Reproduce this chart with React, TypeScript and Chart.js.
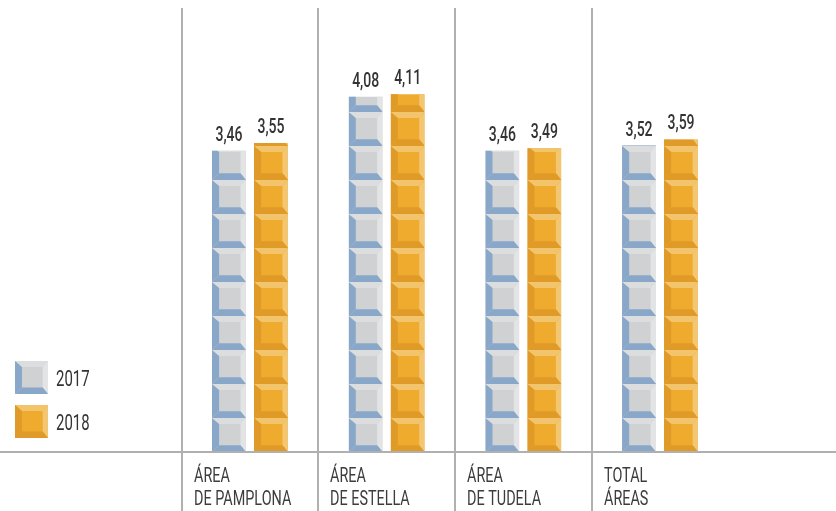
import React, { useEffect, useRef } from "react";
import { Chart, registerables } from "chart.js";

Chart.register(...registerables);

const categories: string[][] = [
  ["ÁREA", "DE PAMPLONA"],
  ["ÁREA", "DE ESTELLA"],
  ["ÁREA", "DE TUDELA"],
  ["TOTAL", "ÁREAS"],
];
const seriesLabels = ["2017", "2018"];
const values2017 = [3.46, 4.08, 3.46, 3.52];
const values2018 = [3.55, 4.11, 3.49, 3.59];

const FONT = "Roboto, 'Liberation Sans', sans-serif";

type Pal = { dark: string; face: string; top: string; right: string };
const palettes: Pal[] = [
  { dark: "#88a7c9", face: "#d0d1d3", top: "#dcdddf", right: "#e3e4e5" },
  { dark: "#e09a28", face: "#eeab2e", top: "#f2c46c", right: "#f3c672" },
];

function poly(ctx: CanvasRenderingContext2D, pts: number[][], color: string) {
  ctx.beginPath();
  ctx.moveTo(pts[0][0], pts[0][1]);
  for (let i = 1; i < pts.length; i++) ctx.lineTo(pts[i][0], pts[i][1]);
  ctx.closePath();
  ctx.fillStyle = color;
  ctx.fill();
}

function drawTile(ctx: CanvasRenderingContext2D, x0: number, y0: number, w: number, h: number, p: Pal) {
  const x1 = x0 + w;
  const y1 = y0 + h;
  const L = w * 0.21, R = w * 0.16, T = h * 0.18, B = h * 0.2;
  ctx.fillStyle = p.face;
  ctx.fillRect(x0, y0, w, h);
  poly(ctx, [[x0, y0], [x1, y0], [x1 - R, y0 + T], [x0 + L, y0 + T]], p.top);
  poly(ctx, [[x1, y0], [x1, y1], [x1 - R, y1 - B], [x1 - R, y0 + T]], p.right);
  poly(ctx, [[x0, y0], [x0 + L, y0 + T], [x0 + L, y1 - B], [x0, y1]], p.dark);
  poly(ctx, [[x0, y1], [x0 + L, y1 - B], [x1 - R, y1 - B], [x1, y1]], p.dark);
}

function drawText(
  ctx: CanvasRenderingContext2D,
  text: string,
  x: number,
  y: number,
  font: string,
  sx: number,
  align: CanvasTextAlign,
  color: string
) {
  ctx.save();
  ctx.font = font;
  ctx.fillStyle = color;
  ctx.textAlign = align;
  ctx.textBaseline = "alphabetic";
  ctx.translate(x, y);
  ctx.scale(sx, 1);
  ctx.fillText(text, 0, 0);
  ctx.restore();
}

const tilePlugin = {
  id: "tiles",
  afterDatasetsDraw(chart: any) {
    const ctx: CanvasRenderingContext2D = chart.ctx;
    chart.data.datasets.forEach((ds: any, di: number) => {
      const meta = chart.getDatasetMeta(di);
      const pal = palettes[di];
      meta.data.forEach((bar: any, i: number) => {
        const { x, y, base, width } = bar.getProps(["x", "y", "base", "width"], true);
        const left = x - width / 2;
        const tileH = 34;
        ctx.save();
        ctx.beginPath();
        ctx.rect(left, y, width, base - y);
        ctx.clip();
        for (let t = base; t > y - tileH; t -= tileH) {
          drawTile(ctx, left, t - tileH, width, tileH, pal);
        }
        ctx.restore();
        drawText(
          ctx,
          Number(ds.data[i]).toFixed(2).replace(".", ","),
          x,
          y - 10,
          `500 20px ${FONT}`,
          0.7,
          "center",
          "#333333"
        );
      });
    });
  },
  afterDraw(chart: any) {
    const ctx: CanvasRenderingContext2D = chart.ctx;
    const xs = chart.scales.x;
    const yBase = chart.scales.y.getPixelForValue(0);
    const n = chart.data.labels.length;
    const catW = xs.width / n;
    ctx.save();
    ctx.strokeStyle = "#b0b0b0";
    ctx.lineWidth = 2;
    // separators
    for (let i = 0; i < n; i++) {
      const sx = Math.round(xs.getPixelForValue(i) - catW / 2);
      ctx.beginPath();
      ctx.moveTo(sx, chart.chartArea.top);
      ctx.lineTo(sx, chart.height);
      ctx.stroke();
      const lines: string[] = chart.data.labels[i];
      lines.forEach((ln, k) => {
        drawText(ctx, ln, sx + 12, yBase + 30 + k * 23, `400 20px ${FONT}`, 0.72, "left", "#3c3c3c");
      });
    }
    // baseline
    ctx.beginPath();
    ctx.moveTo(0, Math.round(yBase));
    ctx.lineTo(chart.width, Math.round(yBase));
    ctx.stroke();
    // legend
    chart.data.datasets.forEach((ds: any, di: number) => {
      const ly = 361 + di * 44;
      drawTile(ctx, 15, ly, 33, 33, palettes[di]);
      drawText(ctx, ds.label, 56, ly + 25, `400 22px ${FONT}`, 0.68, "left", "#333333");
    });
    ctx.restore();
  },
};

export default function App() {
  const ref = useRef<HTMLCanvasElement | null>(null);
  useEffect(() => {
    document.body.style.margin = "0";
    const canvas = ref.current!;
    const chart = new Chart(canvas, {
      type: "bar",
      data: {
        labels: categories,
        datasets: [
          { label: seriesLabels[0], data: values2017, backgroundColor: "rgba(0,0,0,0)", borderWidth: 0 },
          { label: seriesLabels[1], data: values2018, backgroundColor: "rgba(0,0,0,0)", borderWidth: 0 },
        ],
      },
      options: {
        responsive: false,
        animation: false,
        events: [],
        categoryPercentage: 0.6145,
        barPercentage: 0.81,
        layout: { padding: { left: 181.6, right: 107.6, top: 8, bottom: 59 } },
        plugins: { legend: { display: false }, tooltip: { enabled: false } },
        scales: {
          y: { display: false, min: 0, max: 5.1 },
          x: { display: false, offset: true },
        },
      } as any,
      plugins: [tilePlugin],
    });
    return () => chart.destroy();
  }, []);
  return <canvas ref={ref} width={836} height={511} style={{ display: "block" }} />;
}
